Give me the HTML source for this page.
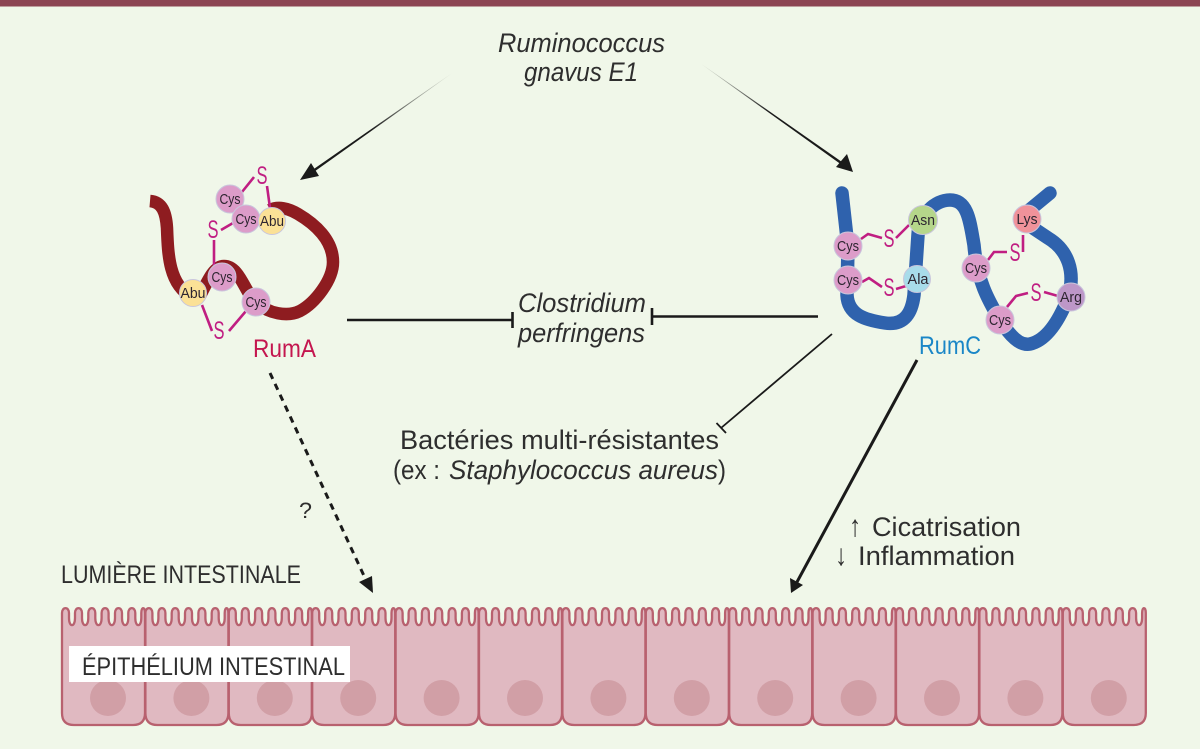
<!DOCTYPE html>
<html><head><meta charset="utf-8"><style>
html,body{margin:0;padding:0;background:#f0f7e9}
svg{display:block}
text{font-family:"Liberation Sans",sans-serif;fill:#2e2e2e}
.i{font-style:italic}
.c{font-size:15px;text-anchor:middle;fill:#2d2530}
.s{font-size:25px;text-anchor:middle;fill:#c01e82}
.m{fill:none;stroke:#c01e82;stroke-width:2.6}
.b{stroke:#c9c6dc;stroke-width:1}
</style></head><body>
<svg width="1200" height="749" viewBox="0 0 1200 749" xmlns="http://www.w3.org/2000/svg">
<defs>
<linearGradient id="gl" gradientUnits="userSpaceOnUse" x1="452" y1="73" x2="370" y2="131"><stop offset="0" stop-color="#1a1a1a" stop-opacity="0"/><stop offset="1" stop-color="#1a1a1a"/></linearGradient>
<linearGradient id="gr" gradientUnits="userSpaceOnUse" x1="701" y1="64" x2="770" y2="113"><stop offset="0" stop-color="#1a1a1a" stop-opacity="0"/><stop offset="1" stop-color="#1a1a1a"/></linearGradient>
<g id="cell">
<path d="M0,14 L0,5 C0,-1.500 7,-1.500 7,5 L7,10 C7,19.500 13,19.500 13,10 L13,5 C13,-1.500 20,-1.500 20,5 L20,10 C20,19.500 26.300,19.500 26.300,10 L26.300,5 C26.300,-1.500 33.300,-1.500 33.300,5 L33.300,10 C33.300,19.500 39.600,19.500 39.600,10 L39.600,5 C39.600,-1.500 46.600,-1.500 46.600,5 L46.600,10 C46.600,19.500 53,19.500 53,10 L53,5 C53,-1.500 60,-1.500 60,5 L60,10 C60,19.500 66.300,19.500 66.300,10 L66.300,5 C66.300,-1.500 73.300,-1.500 73.300,5 L73.300,10 C73.300,19.500 79.300,19.500 79.300,10 L79.300,5 C79.300,-1.500 83,-1.500 83,5 L83,105 Q83,117 71,117 L12,117 Q0,117 0,105 Z" fill="#e0b9c1" stroke="#b8616f" stroke-width="2.300"/>
<circle cx="46" cy="90" r="18" fill="#d19fa6"/>
</g>
</defs>
<rect width="1200" height="749" fill="#f0f7e9"/>
<rect width="1200" height="6.5" fill="#8c4553"/>

<!-- Epithelium -->
<use href="#cell" x="62" y="608"/><use href="#cell" x="145.4" y="608"/><use href="#cell" x="228.8" y="608"/><use href="#cell" x="312.2" y="608"/><use href="#cell" x="395.6" y="608"/><use href="#cell" x="479" y="608"/><use href="#cell" x="562.4" y="608"/><use href="#cell" x="645.8" y="608"/><use href="#cell" x="729.2" y="608"/><use href="#cell" x="812.6" y="608"/><use href="#cell" x="896" y="608"/><use href="#cell" x="979.4" y="608"/><use href="#cell" x="1062.8" y="608"/>
<rect x="69" y="646" width="281" height="36" fill="#fff"/>
<text x="82" y="675" font-size="25" textLength="263" lengthAdjust="spacingAndGlyphs">ÉPITHÉLIUM INTESTINAL</text>
<text x="61" y="583" font-size="25" textLength="240" lengthAdjust="spacingAndGlyphs">LUMIÈRE INTESTINALE</text>

<!-- Top arrows -->
<polygon points="452,73 452.2,73.3 311,174 309.5,172" fill="url(#gl)"/>
<polygon points="300,180 311,163 319,176" fill="#1a1a1a"/>
<polygon points="701,64 701.2,63.7 842,162 840.5,164" fill="url(#gr)"/>
<polygon points="853,172 836,167 847,154" fill="#1a1a1a"/>

<text class="i" x="498" y="52" font-size="27" textLength="167" lengthAdjust="spacingAndGlyphs">Ruminococcus</text>
<text class="i" x="524" y="81" font-size="27" textLength="114" lengthAdjust="spacingAndGlyphs">gnavus E1</text>

<!-- Inhibition lines -->
<path d="M347,320H512M512.500,312V328M818,316.500H652M652,308V325" stroke="#1a1a1a" stroke-width="2.6" fill="none"/>
<path d="M832,334L721,428M716.500,423L726,433" stroke="#1a1a1a" stroke-width="1.8" fill="none"/>
<text class="i" x="518" y="312" font-size="27" textLength="128" lengthAdjust="spacingAndGlyphs">Clostridium</text>
<text class="i" x="518" y="342" font-size="27" textLength="127" lengthAdjust="spacingAndGlyphs">perfringens</text>
<text x="400" y="449" font-size="27" textLength="319" lengthAdjust="spacingAndGlyphs">Bactéries multi-résistantes</text>
<text x="393" y="479" font-size="27" textLength="47" lengthAdjust="spacingAndGlyphs">(ex :</text>
<text class="i" x="449" y="479" font-size="27" textLength="269" lengthAdjust="spacingAndGlyphs">Staphylococcus aureus</text>
<text x="718" y="479" font-size="27" textLength="8" lengthAdjust="spacingAndGlyphs">)</text>

<!-- Dashed and solid arrows -->
<path d="M270,373L365,578" stroke="#1a1a1a" stroke-width="3" stroke-dasharray="6.500 5.500" fill="none"/>
<polygon points="373,593 359,582 372,576" fill="#1a1a1a"/>
<text x="299" y="518" font-size="22" textLength="13" lengthAdjust="spacingAndGlyphs">?</text>
<path d="M917,360L797,582" stroke="#1a1a1a" stroke-width="3" fill="none"/>
<polygon points="791,593 790,578 803,585" fill="#1a1a1a"/>
<text x="849" y="536" font-size="30" textLength="12" lengthAdjust="spacingAndGlyphs">↑</text>
<text x="872" y="536" font-size="27" textLength="149" lengthAdjust="spacingAndGlyphs">Cicatrisation</text>
<text x="835" y="565" font-size="30" textLength="12" lengthAdjust="spacingAndGlyphs">↓</text>
<text x="858" y="565" font-size="27" textLength="157" lengthAdjust="spacingAndGlyphs">Inflammation</text>

<!-- RumA -->
<path d="M150,201 C162,202 166,212 167,228 C168,255 169,285 192,297 M200,296 C208,280 214,266 224,266 C240,266 245,294 256,302 C268,314 288,317 300,311 C315,303 333,280 333,262 C333,240 315,224 298,214 C288,208 278,206 270,210" fill="none" stroke="#8e1c20" stroke-width="12.500"/>
<path class="m" d="M242,192L254,177M267,186L270,208M221,230L233,223M214,240V266M202,305L212,331M229,331L246,311"/>
<g class="b"><circle cx="230" cy="199" r="14" fill="#dc9cc9"/><circle cx="246" cy="219" r="14" fill="#dc9cc9"/><circle cx="272" cy="221" r="13.500" fill="#fbe196"/><circle cx="222" cy="277" r="14" fill="#dc9cc9"/><circle cx="193" cy="293" r="13.500" fill="#fbe196"/><circle cx="256" cy="302" r="14" fill="#dc9cc9"/></g>
<g><text class="c" x="230" y="204" textLength="21" lengthAdjust="spacingAndGlyphs">Cys</text><text class="c" x="246" y="224" textLength="21" lengthAdjust="spacingAndGlyphs">Cys</text><text class="c" x="272" y="226" textLength="24" lengthAdjust="spacingAndGlyphs">Abu</text><text class="c" x="222" y="282" textLength="21" lengthAdjust="spacingAndGlyphs">Cys</text><text class="c" x="193" y="298" textLength="25" lengthAdjust="spacingAndGlyphs">Abu</text><text class="c" x="256" y="307" textLength="21" lengthAdjust="spacingAndGlyphs">Cys</text></g>
<g><text class="s" x="262" y="184" textLength="11" lengthAdjust="spacingAndGlyphs">S</text><text class="s" x="213" y="238" textLength="11" lengthAdjust="spacingAndGlyphs">S</text><text class="s" x="219" y="339" textLength="11" lengthAdjust="spacingAndGlyphs">S</text></g>
<text x="253" y="357" font-size="25" textLength="63" lengthAdjust="spacingAndGlyphs" style="fill:#c4164f">RumA</text>

<!-- RumC -->
<path d="M842,193 L848,247 L847,295 C848,315 865,320 885,323 C905,326 912,312 914,295 L918,235 C919,215 935,200 950,200 C968,200 970,222 974,245 C977,280 988,300 1000,320 C1010,336 1020,346 1030,344 C1048,340 1060,318 1068,298 C1076,272 1068,250 1048,238 L1030,226 M1027,212 L1050,193" fill="none" stroke="#2f62ad" stroke-width="13.500" stroke-linecap="round" stroke-linejoin="round"/>
<path class="m" d="M861,239L868,234L882,238M896,238L909,225M862,282L869,278L882,287M896,289L906,286M988,260L994,252L1007,252M1023,252V235M1007,307L1016,296L1028,293M1044,292L1058,296"/>
<g class="b"><circle cx="848" cy="246" r="14" fill="#dc9cc9"/><circle cx="848" cy="280" r="14" fill="#dc9cc9"/><circle cx="923" cy="220" r="14.500" fill="#b5d68a"/><circle cx="917" cy="279" r="13.500" fill="#a8dcea"/><circle cx="976" cy="268" r="14" fill="#dc9cc9"/><circle cx="1027" cy="219" r="14" fill="#f0929a"/><circle cx="1071" cy="297" r="14" fill="#bd97c8"/><circle cx="1000" cy="320" r="14" fill="#dc9cc9"/></g>
<g><text class="c" x="848" y="251" textLength="22" lengthAdjust="spacingAndGlyphs">Cys</text><text class="c" x="848" y="285" textLength="22" lengthAdjust="spacingAndGlyphs">Cys</text><text class="c" x="923" y="225" textLength="24" lengthAdjust="spacingAndGlyphs">Asn</text><text class="c" x="918" y="284" textLength="21" lengthAdjust="spacingAndGlyphs">Ala</text><text class="c" x="976" y="273" textLength="22" lengthAdjust="spacingAndGlyphs">Cys</text><text class="c" x="1027" y="224" textLength="21" lengthAdjust="spacingAndGlyphs">Lys</text><text class="c" x="1071" y="302" textLength="22" lengthAdjust="spacingAndGlyphs">Arg</text><text class="c" x="1000" y="325" textLength="22" lengthAdjust="spacingAndGlyphs">Cys</text></g>
<g><text class="s" x="889" y="247" textLength="11" lengthAdjust="spacingAndGlyphs">S</text><text class="s" x="889" y="296" textLength="11" lengthAdjust="spacingAndGlyphs">S</text><text class="s" x="1015" y="261" textLength="11" lengthAdjust="spacingAndGlyphs">S</text><text class="s" x="1036" y="301" textLength="11" lengthAdjust="spacingAndGlyphs">S</text></g>
<text x="919" y="354" font-size="25" textLength="62" lengthAdjust="spacingAndGlyphs" style="fill:#1a86c7">RumC</text>
</svg>
</body></html>
